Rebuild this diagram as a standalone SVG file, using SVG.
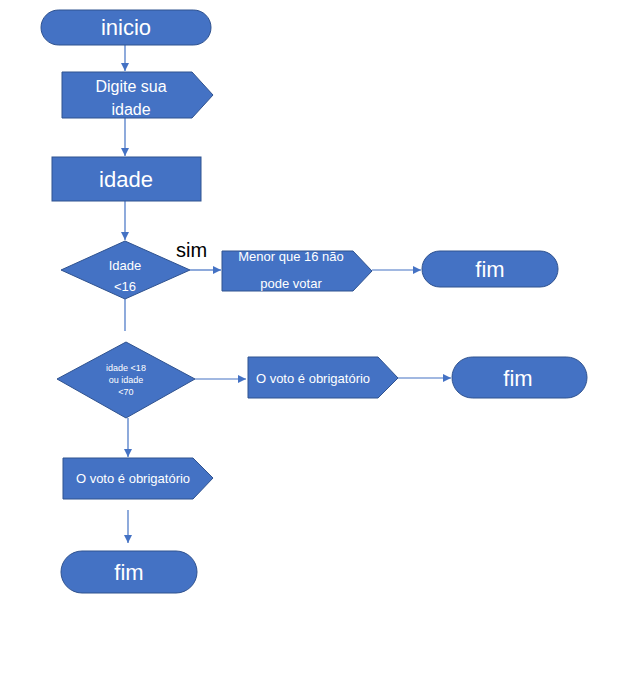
<svg xmlns="http://www.w3.org/2000/svg" width="627" height="690" viewBox="0 0 627 690">
  <defs>
    <marker id="arrow" viewBox="0 0 10 10" refX="10" refY="5" markerWidth="8" markerHeight="8" markerUnits="userSpaceOnUse" orient="auto">
      <path d="M0,0 L10,5 L0,10 Z" fill="#4472C4"/>
    </marker>
  </defs>
  <style>
    .shape { fill: #4472C4; stroke: #2F528F; stroke-width: 1; }
    .lbl { fill: #ffffff; font-family: "Liberation Sans", "Open Sans", sans-serif; text-anchor: middle; dominant-baseline: central; }
    .big { font-size: 22px; }
    .mid { font-size: 16px; }
    .sm { font-size: 13px; }
    .xs { font-size: 9px; }
    .link { fill: none; stroke: #4472C4; stroke-width: 1.2; }
    .sim { fill: #000000; font-family: "Liberation Sans", "Open Sans", sans-serif; font-size: 20px; }
  </style>
  <rect width="627" height="690" fill="#ffffff"/>

  <g id="connectors">
    <line class="link" x1="125" y1="45" x2="125" y2="71" marker-end="url(#arrow)"/>
    <line class="link" x1="125" y1="118" x2="125" y2="156" marker-end="url(#arrow)"/>
    <line class="link" x1="125" y1="201" x2="125" y2="240" marker-end="url(#arrow)"/>
    <line class="link" x1="190" y1="270" x2="221" y2="270" marker-end="url(#arrow)"/>
    <line class="link" x1="372" y1="270" x2="421" y2="270" marker-end="url(#arrow)"/>
    <line class="link" x1="125" y1="299" x2="125" y2="331"/>
    <line class="link" x1="195" y1="379" x2="246" y2="379" marker-end="url(#arrow)"/>
    <line class="link" x1="398" y1="378" x2="451" y2="378" marker-end="url(#arrow)"/>
    <line class="link" x1="128" y1="418" x2="128" y2="457" marker-end="url(#arrow)"/>
    <line class="link" x1="128" y1="510" x2="128" y2="543" marker-end="url(#arrow)"/>
  </g>

  <g id="inicio">
    <rect class="shape" x="41" y="10" width="170" height="35" rx="17.5"/>
    <text class="lbl big" x="126" y="27">inicio</text>
  </g>

  <g id="digite">
    <path class="shape" d="M62,72 H192 L213,95 L192,118 H62 Z"/>
    <text class="lbl mid" x="131" y="86">Digite sua</text>
    <text class="lbl mid" x="131" y="109">idade</text>
  </g>

  <g id="idade">
    <rect class="shape" x="52" y="157" width="149" height="44"/>
    <text class="lbl big" x="126" y="179">idade</text>
  </g>

  <g id="cond16">
    <path class="shape" d="M125,241 L190,270 L125,299 L61,270 Z"/>
    <text class="lbl sm" x="125" y="265">Idade</text>
    <text class="lbl sm" x="125" y="286">&lt;16</text>
  </g>
  <text class="sim" x="176" y="257">sim</text>

  <g id="menor16">
    <path class="shape" d="M222,251 H353 L372,271 L353,291 H222 Z"/>
    <text class="lbl sm" x="291" y="256">Menor que 16 não</text>
    <text class="lbl sm" x="291" y="283">pode votar</text>
  </g>

  <g id="fim1">
    <rect class="shape" x="422" y="251" width="136" height="36" rx="18"/>
    <text class="lbl big" x="490" y="269">fim</text>
  </g>

  <g id="cond18">
    <path class="shape" d="M126,342 L195,379 L126,418 L57,379 Z"/>
    <text class="lbl xs" x="126" y="368">idade &lt;18</text>
    <text class="lbl xs" x="126" y="380">ou idade</text>
    <text class="lbl xs" x="126" y="392">&lt;70</text>
  </g>

  <g id="obrig1">
    <path class="shape" d="M248,357 H378 L398,378 L378,398 H248 Z"/>
    <text class="lbl sm" x="313" y="378">O voto é obrigatório</text>
  </g>

  <g id="fim2">
    <rect class="shape" x="452" y="357" width="135" height="41" rx="20.5"/>
    <text class="lbl big" x="518" y="378">fim</text>
  </g>

  <g id="obrig2">
    <path class="shape" d="M63,458 H193 L213,478 L193,499 H63 Z"/>
    <text class="lbl sm" x="133" y="478">O voto é obrigatório</text>
  </g>

  <g id="fim3">
    <rect class="shape" x="61" y="551" width="136" height="42" rx="21"/>
    <text class="lbl big" x="129" y="572">fim</text>
  </g>
</svg>
